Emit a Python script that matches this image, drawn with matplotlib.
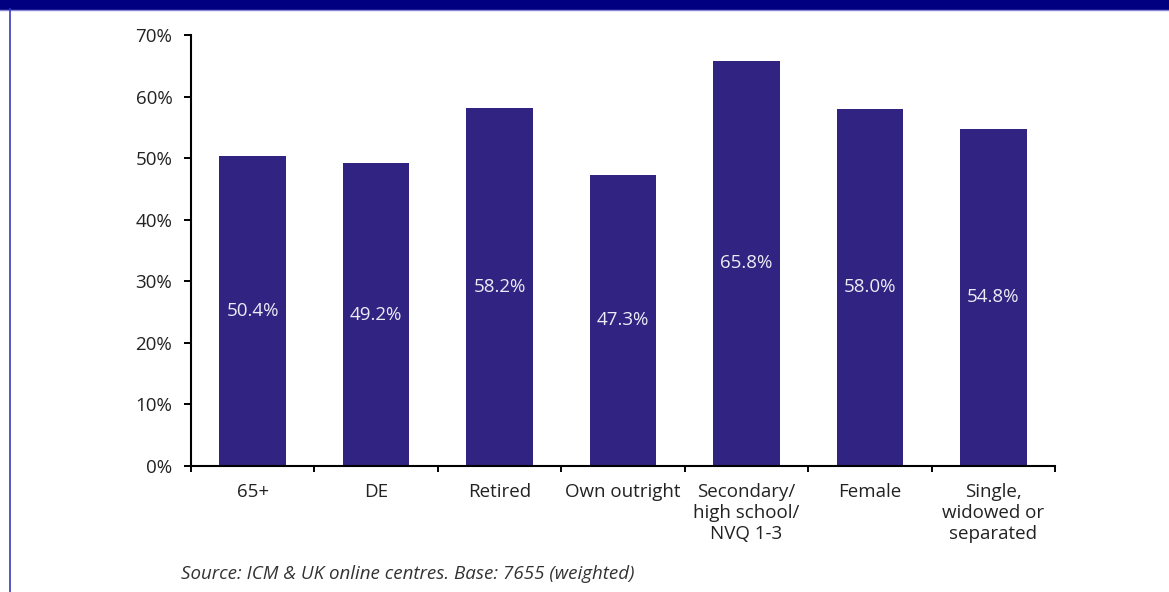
import matplotlib
matplotlib.use('Agg')
import matplotlib.pyplot as plt
from matplotlib.patches import Rectangle
from matplotlib.lines import Line2D
import numpy as np

# Dados do grafico
categorias = ['65+', 'DE', 'Retired', 'Own outright',
              'Secondary/\nhigh school/\nNVQ 1-3', 'Female',
              'Single,\nwidowed or\nseparated']
valores = [50.4, 49.2, 58.2, 47.3, 65.8, 58.0, 54.8]
ticks_y = [0, 10, 20, 30, 40, 50, 60, 70]
fonte = 'Source: ICM & UK online centres. Base: 7655 (weighted)'

plt.rcParams['font.family'] = ['Open Sans', 'DejaVu Sans']

cor_barra = '#312381'
cor_texto = '#222222'
tam = 13.5

fig = plt.figure(figsize=(11.69, 5.92), dpi=100)
ax = fig.add_axes([0.1634, 0.2128, 0.7391, 0.7281])

x = np.arange(len(categorias))
ax.bar(x, valores, width=0.54, color=cor_barra, zorder=2)

# rotulos dentro das barras
for xi, v in zip(x, valores):
    ax.text(xi, v / 2, f'{v:.1f}%', ha='center', va='center',
            color='#ececf6', fontsize=tam)

ax.set_xlim(-0.5, len(categorias) - 0.5)
ax.set_ylim(0, 70)
ax.set_yticks(ticks_y)
ax.set_yticklabels([f'{t}%' for t in ticks_y], color=cor_texto, fontsize=tam)

# ticks do eixo x nas divisas entre categorias
ax.set_xticks(np.arange(-0.5, len(categorias), 1.0))
ax.set_xticklabels([])
ax.set_xticks(x, minor=True)
ax.set_xticklabels(categorias, minor=True, fontsize=tam, color=cor_texto,
                   va='top', linespacing=1.22)
ax.tick_params(axis='x', which='minor', length=0, pad=12)
ax.tick_params(axis='x', which='major', length=4.3, width=1.4, direction='out')
ax.tick_params(axis='y', length=5, width=1.4, direction='out', pad=8.5)

for s in ['top', 'right']:
    ax.spines[s].set_visible(False)
for s in ['left', 'bottom']:
    ax.spines[s].set_linewidth(1.5)
    ax.spines[s].set_color('black')

fig.text(181 / 1169, 1 - 574 / 592, fonte, style='italic', fontsize=tam,
         color='#333333', va='center', ha='left')

# faixa azul no topo e borda esquerda
fig.patches.append(Rectangle((0, 1 - 9 / 592), 1, 9 / 592, transform=fig.transFigure,
                             color='#000080', zorder=0))
fig.lines.append(Line2D([0, 1], [1 - 9.5 / 592] * 2, transform=fig.transFigure,
                        color='#8a8ad8', linewidth=1))
fig.lines.append(Line2D([9.5 / 1169] * 2, [0, 1 - 9 / 592], transform=fig.transFigure,
                        color='#3a3ac0', linewidth=1.2))

fig.savefig('out.png', dpi=100)
